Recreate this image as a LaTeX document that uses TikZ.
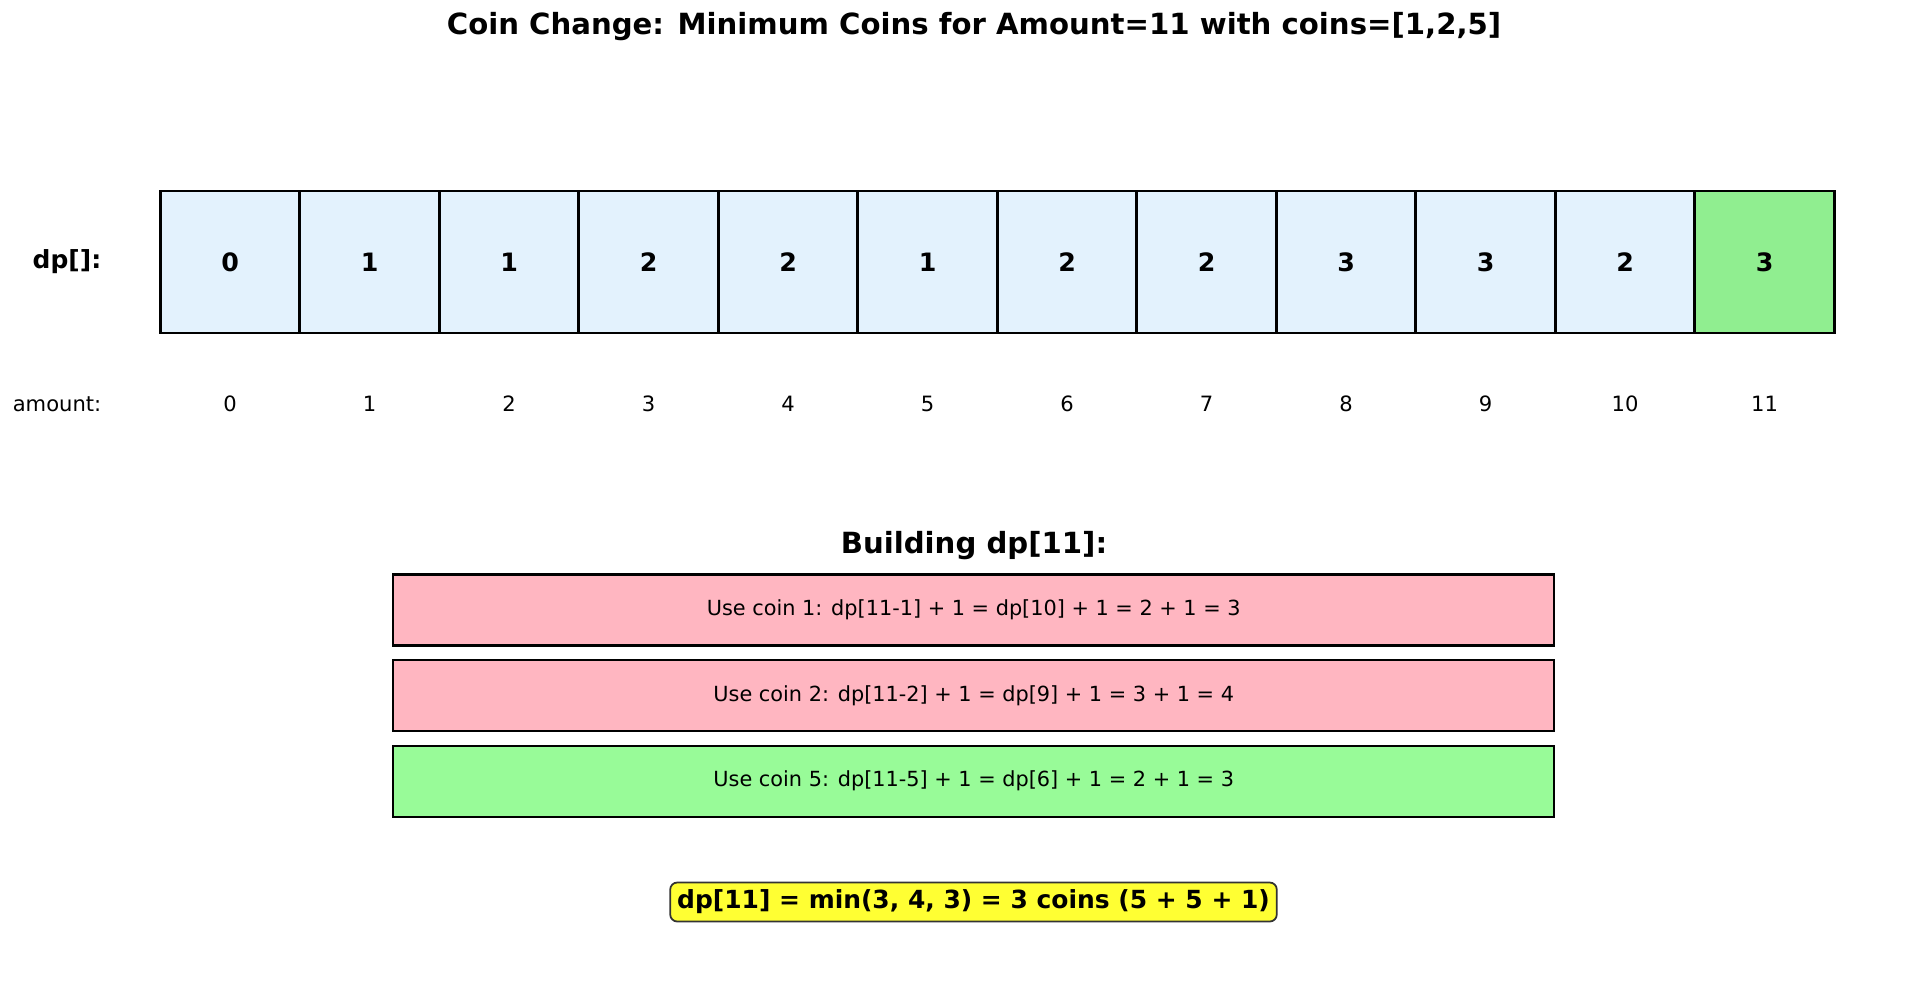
\documentclass[tikz,border=0pt]{standalone}
\usepackage{fontspec}
\setmainfont{DejaVu Sans}
\usepackage{xcolor}
\usetikzlibrary{positioning}

\definecolor{cellblue}{HTML}{E3F2FD}
\definecolor{donegreen}{HTML}{90EE90}
\definecolor{losepink}{HTML}{FFB6C1}
\definecolor{winpale}{HTML}{98FB98}
\definecolor{resultyellow}{HTML}{FFFF33}
\definecolor{edgegray}{HTML}{333333}

\begin{document}
\begin{tikzpicture}[
    x=0.02cm, y=-0.02cm,
    cell/.style={draw, line width=1.6pt, fill=cellblue, rectangle, inner sep=0pt, minimum width=2.79cm, minimum height=2.84cm, font=\fontsize{14.4}{17}\selectfont\bfseries},
    idx/.style={font=\fontsize{12}{14}\selectfont},
    rowlabel/.style={anchor=east, inner sep=0pt},
    heading/.style={font=\fontsize{16.6}{20}\selectfont\bfseries},
    stepbox/.style={draw, line width=1.2pt, rectangle, minimum width=23.23cm, minimum height=1.42cm, font=\fontsize{11.85}{14}\selectfont},
    result/.style={draw=edgegray, line width=1pt, fill=resultyellow, rounded corners=4pt, inner xsep=0.14cm, minimum height=0.78cm, font=\fontsize{14.2}{17}\selectfont\bfseries}
]
\useasboundingbox (0,0) rectangle (1919,988);

% Title
\node[heading] (title) at (974,27) {Coin Change: Minimum Coins for Amount=11 with coins=[1,2,5]};

% dp table
\node[rowlabel, font=\fontsize{14.2}{17}\selectfont\bfseries] (dplabel) at (101.6,262) {dp[]:};
\node[rowlabel, idx] (amtlabel) at (101.6,404) {amount:};
\foreach \v [count=\i from 0] in {0,1,1,2,2,1,2,2,3,3,2} {
    \node[cell] (cell\i) at ({160.3+139.5*(\i+0.5)},262) {\v};
    \node[idx] (amt\i) at ({160.3+139.5*(\i+0.5)},404) {\i};
}
\node[cell, fill=donegreen] (cell11) at ({160.3+139.5*11.5},262) {3};
\node[idx] (amt11) at ({160.3+139.5*11.5},404) {11};

% Building dp[11]
\node[heading] (build) at (974,546) {Building dp[11]:};
\node[stepbox, fill=losepink] (coin1) at (973.75,610) {Use coin 1: dp[11-1] + 1 = dp[10] + 1 = 2 + 1 = 3};
\node[stepbox, fill=losepink, below=0.25cm of coin1] (coin2) {Use coin 2: dp[11-2] + 1 = dp[9] + 1 = 3 + 1 = 4};
\node[stepbox, fill=winpale, below=0.25cm of coin2] (coin5) {Use coin 5: dp[11-5] + 1 = dp[6] + 1 = 2 + 1 = 3};

% Result
\node[result] (answer) at (973.5,902) {dp[11] = min(3, 4, 3) = 3 coins (5 + 5 + 1)};

\end{tikzpicture}
\end{document}
